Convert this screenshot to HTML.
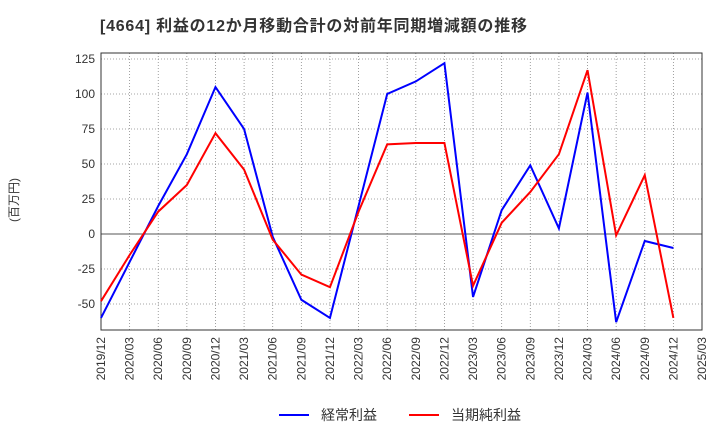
<!DOCTYPE html>
<html><head><meta charset="utf-8"><style>
body{margin:0;background:#fff;font-family:"Liberation Sans","Noto Sans CJK JP",sans-serif}
</style></head><body>
<svg id="c" width="720" height="440" xmlns="http://www.w3.org/2000/svg" font-family="Liberation Sans, Noto Sans CJK JP, sans-serif">
<text x="100" y="31" font-size="16" font-weight="bold" fill="#333" textLength="427" lengthAdjust="spacing">[4664]  利益の12か月移動合計の対前年同期増減額の推移</text>
<text transform="translate(18,200) rotate(-90)" text-anchor="middle" font-size="12" fill="#333">(百万円)</text>
<g id="grid"></g><g id="axes"></g><g id="series"></g>
<g>
<line x1="279" y1="415" x2="309" y2="415" stroke="#0000ff" stroke-width="2"/>
<text x="321" y="420" font-size="14" fill="#333">経常利益</text>
<line x1="409" y1="415" x2="439" y2="415" stroke="#ff0000" stroke-width="2"/>
<text x="451" y="420" font-size="14" fill="#333">当期純利益</text>
</g>
</svg>
<script>
const categories=["2019/12","2020/03","2020/06","2020/09","2020/12","2021/03","2021/06","2021/09","2021/12","2022/03","2022/06","2022/09","2022/12","2023/03","2023/06","2023/09","2023/12","2024/03","2024/06","2024/09","2024/12","2025/03"];
const ordinaryProfit=[-60,-20,20,57,105,75,-2,-47,-60,20,100,109,122,-45,17,49,4,101,-63,-5,-10];
const netProfit=[-48,-15,16,35,72,46,-4,-29,-38,16,64,65,65,-37,8,30,57,117,-1,42,-60];
const yTicks=[-50,-25,0,25,50,75,100,125];
const L=101,R=702,T=53,B=330,yMin=-68.6,yMax=129.3;
const NS="http://www.w3.org/2000/svg";
const X=i=>L+i*(R-L)/(categories.length-1);
const Y=v=>B-(v-yMin)/(yMax-yMin)*(B-T);
function mk(t,a,p){const e=document.createElementNS(NS,t);for(const k in a)e.setAttribute(k,a[k]);p.appendChild(e);return e;}
const g=document.getElementById('grid'),ax=document.getElementById('axes'),s=document.getElementById('series');
categories.forEach((c,i)=>{
 const l=mk('line',{x1:X(i),x2:X(i),y1:T,y2:B,stroke:'#888','stroke-dasharray':'1,2','stroke-width':0.8},g);
 
 
 const t=mk('text',{transform:`translate(${X(i)+4},${B+7}) rotate(-90)`,'text-anchor':'end','font-size':12,fill:'#333'},ax);
 t.textContent=c;
 
 
});
yTicks.forEach(v=>{
 const l=mk('line',{x1:L,x2:R,y1:Y(v),y2:Y(v),stroke:v===0?'#555':'#888','stroke-dasharray':v===0?'':'1,2','stroke-width':v===0?1:0.8},g);
 
 
 const t=mk('text',{x:L-6,y:Y(v)+4,'text-anchor':'end','font-size':12,fill:'#333'},ax);
 t.textContent=v;
 
 
});
const f=mk('rect',{x:L,y:T,width:R-L,height:B-T,fill:'none',stroke:'#333','stroke-width':1},ax);


const p1=mk('polyline',{points:ordinaryProfit.map((v,i)=>X(i)+','+Y(v)).join(' '),fill:'none',stroke:'#0000ff','stroke-width':2},s);


const p2=mk('polyline',{points:netProfit.map((v,i)=>X(i)+','+Y(v)).join(' '),fill:'none',stroke:'#ff0000','stroke-width':2},s);


</script>
</body></html>
